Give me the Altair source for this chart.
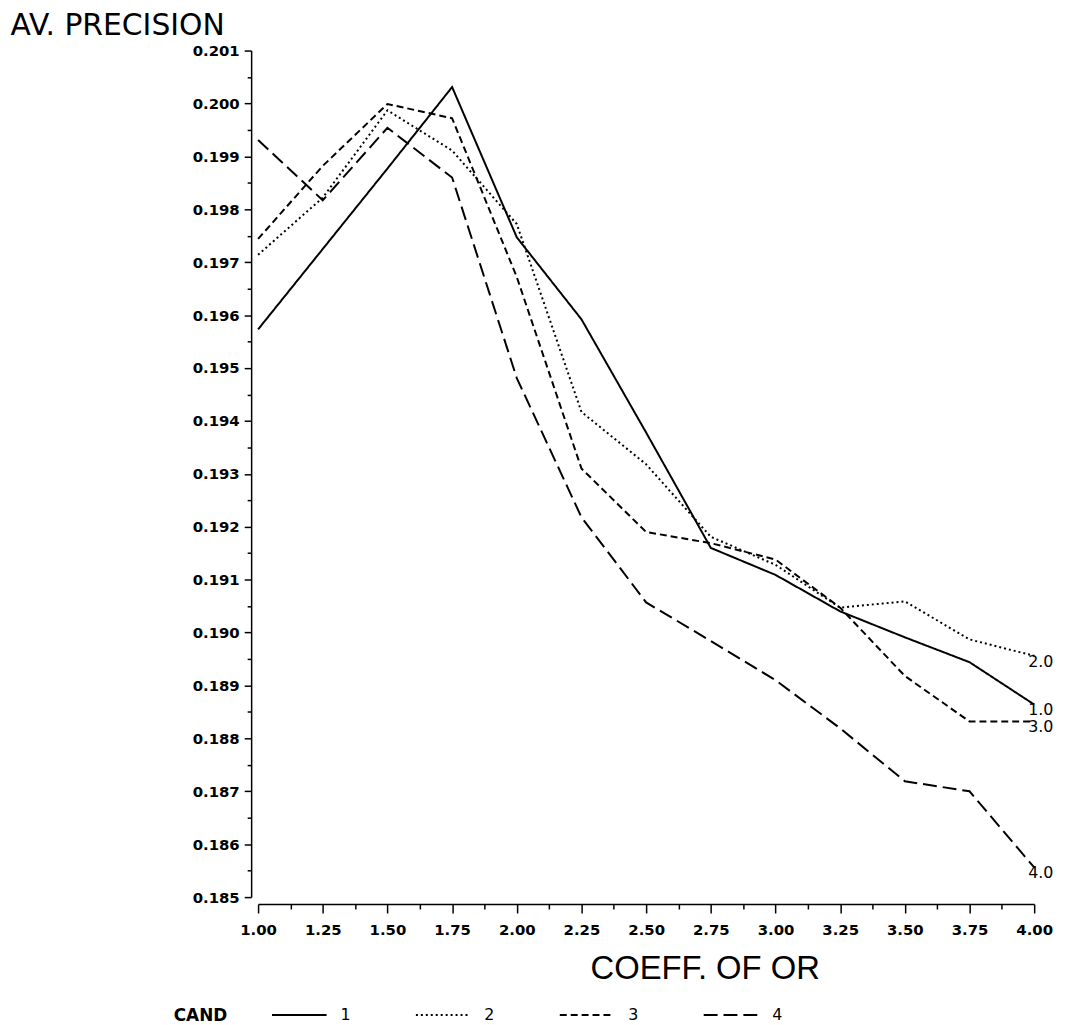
import altair as alt
import pandas as pd

# ---- data ----
coef = [1.00, 1.25, 1.50, 1.75, 2.00, 2.25, 2.50, 2.75, 3.00, 3.25, 3.50, 3.75, 4.00]
cand1 = [0.19573, 0.19725, 0.19877, 0.20031, 0.19747, 0.19592, 0.19378, 0.19160, 0.19109, 0.19040, 0.18991, 0.18944, 0.18864]
cand2 = [0.19714, 0.19822, 0.19987, 0.19911, 0.19772, 0.19417, 0.19318, 0.19181, 0.19128, 0.19047, 0.19059, 0.18987, 0.18956]
cand3 = [0.19744, 0.19882, 0.19999, 0.19972, 0.19672, 0.19310, 0.19190, 0.19169, 0.19138, 0.19047, 0.18918, 0.18832, 0.18832]
cand4 = [0.19931, 0.19817, 0.19954, 0.19860, 0.19481, 0.19218, 0.19057, 0.18984, 0.18910, 0.18819, 0.18719, 0.18700, 0.18556]
cands = ["1", "2", "3", "4"]
end_labels = ["1.0", "2.0", "3.0", "4.0"]

x_major = [1.0 + 0.25 * i for i in range(13)]
x_minor = [1.125 + 0.25 * i for i in range(12)]
y_major = [round(0.185 + 0.001 * i, 3) for i in range(17)]
y_minor = [round(0.1855 + 0.001 * i, 4) for i in range(16)]

series = [cand1, cand2, cand3, cand4]
rows = []
for c, vals in zip(cands, series):
    for xv, yv in zip(coef, vals):
        rows.append({"coef": xv, "prec": yv, "cand": c})
df = pd.DataFrame(rows)
df_end = pd.DataFrame({
    "coef": [coef[-1]] * 4,
    "prec": [s[-1] for s in series],
    "cand": cands,
    "lab": end_labels,
})

FONT = "DejaVu Sans"
x_scale = alt.Scale(domain=[1, 4], nice=False, zero=False)
y_scale = alt.Scale(domain=[0.185, 0.201], nice=False, zero=False)

x_axis = alt.Axis(
    orient="bottom", values=x_major, format=".2f", tickSize=9, offset=7, grid=False,
    domainColor="black", domainWidth=1.5, tickColor="black", tickWidth=1.5,
    labelFont=FONT, labelFontSize=15, labelFontWeight="bold", labelColor="black",
    labelPadding=10, labelOverlap=False, labelFlush=False,
    title="COEFF. OF OR",
    titleFont="Liberation Sans", titleFontSize=33, titleFontWeight="normal", titleColor="black",
    titleX=450, titleY=75, titleAnchor="start", titleAlign="center", titleBaseline="alphabetic",
)
y_axis = alt.Axis(
    orient="left", values=y_major, format=".3f", tickSize=7, offset=7, grid=False,
    domainColor="black", domainWidth=1.5, tickColor="black", tickWidth=1.5,
    labelFont=FONT, labelFontSize=15, labelFontWeight="bold", labelColor="black",
    labelPadding=5, labelOverlap=False, labelFlush=False,
    title="AV. PRECISION",
    titleFont=FONT, titleFontSize=30, titleFontWeight="normal", titleColor="black",
    titleAngle=0, titleX=-243, titleY=-16, titleAlign="left", titleBaseline="alphabetic",
)
x_axis_minor = alt.Axis(
    orient="bottom", values=x_minor, tickSize=5, offset=7, grid=False, domain=False,
    labels=False, title=None, tickColor="black", tickWidth=1.5,
)
y_axis_minor = alt.Axis(
    orient="left", values=y_minor, tickSize=4, offset=7, grid=False, domain=False,
    labels=False, title=None, tickColor="black", tickWidth=1.5,
)

lines = alt.Chart(df).mark_line(color="black", strokeWidth=2).encode(
    x=alt.X("coef:Q", scale=x_scale, axis=x_axis),
    y=alt.Y("prec:Q", scale=y_scale, axis=y_axis),
    strokeDash=alt.StrokeDash(
        "cand:N",
        scale=alt.Scale(domain=cands, range=[[1, 0], [2, 3], [7, 4], [14, 6]]),
        legend=alt.Legend(
            title="CAND", orient="none", legendX=-85, legendY=943,
            direction="horizontal", columns=4, titleOrient="left",
            titleFont=FONT, titleFontSize=17, titleFontWeight="bold", titleColor="black",
            titlePadding=44, titleBaseline="line-top", titleLineHeight=24,
            labelFont=FONT, labelFontSize=16, labelColor="black", labelOffset=13,
            symbolType="stroke", symbolSize=3025, symbolStrokeWidth=2,
            symbolStrokeColor="black", columnPadding=61,
        ),
    ),
    order="coef:Q",
)

labels = alt.Chart(df_end).mark_text(
    align="left", baseline="middle", dx=-6, dy=6, font=FONT, fontSize=16, color="black"
).encode(
    x=alt.X("coef:Q", scale=x_scale, axis=x_axis_minor),
    y=alt.Y("prec:Q", scale=y_scale, axis=y_axis_minor),
    text="lab:N",
)

chart = alt.layer(lines, labels).resolve_axis(x="independent", y="independent").properties(
    width=782, height=853,
    autosize=alt.AutoSizeParams(type="none"),
    padding={"left": 252, "top": 39, "right": 23, "bottom": 125},
).configure(background="white").configure_view(stroke=None)

chart.save("out.html", embed_options={"renderer": "svg", "actions": False})
